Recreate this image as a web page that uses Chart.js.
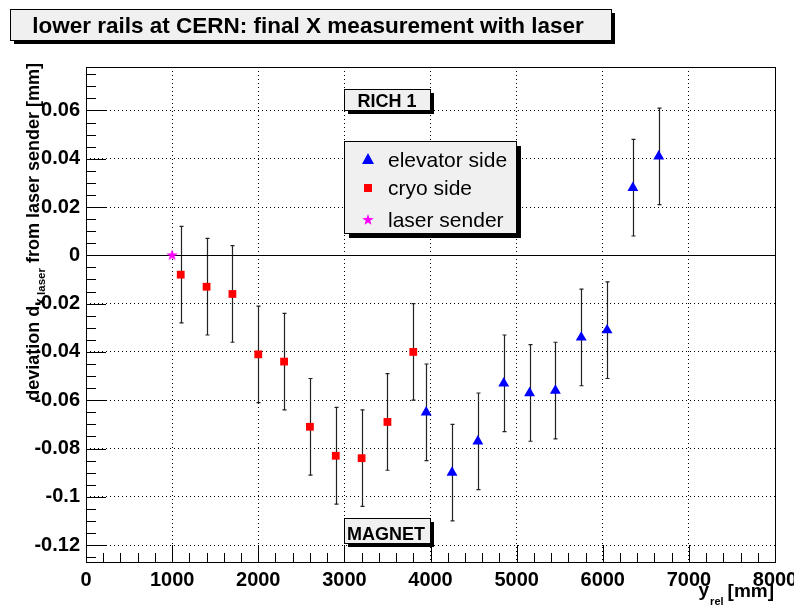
<!DOCTYPE html>
<html>
<head>
<meta charset="utf-8">
<script src="https://cdn.jsdelivr.net/npm/chart.js@4.4.1/dist/chart.umd.min.js"></script>
<style>
  html, body { margin: 0; padding: 0; background: #fff; }
  canvas { display: block; }
</style>
</head>
<body>
<canvas id="railChart" width="794" height="606"></canvas>
<script>
// y_rel positions [mm] and X deviations [mm] measured with the laser
const laserX = [1000];
const laserY = [0];

const cryoX = [1100, 1400, 1700, 2000, 2300, 2600, 2900, 3200, 3500, 3800];
const cryoY = [-0.008, -0.013, -0.016, -0.041, -0.044, -0.071, -0.083, -0.084, -0.069, -0.040];
const cryoErr = [0.02, 0.02, 0.02, 0.02, 0.02, 0.02, 0.02, 0.02, 0.02, 0.02];

const elevX = [3950, 4250, 4550, 4850, 5150, 5450, 5750, 6050, 6350, 6650];
const elevY = [-0.065, -0.090, -0.077, -0.053, -0.057, -0.056, -0.034, -0.031, 0.028, 0.041];
const elevErr = [0.02, 0.02, 0.02, 0.02, 0.02, 0.02, 0.02, 0.02, 0.02, 0.02];

const xTickStep = 1000;
const yTickStep = 0.02;

const FONT = '"Liberation Sans", Arial, Helvetica, sans-serif';

function points(xs, ys, errs) {
    return xs.map((x, i) => ({ x: x, y: ys[i], err: errs ? errs[i] : 0 }));
}

// filled five-point star, used as the marker of the laser sender
function starPoint(r, color) {
    const c = document.createElement('canvas');
    c.width = c.height = Math.ceil(r * 2 + 2);
    const g = c.getContext('2d');
    const cx = c.width / 2, cy = c.height / 2;
    g.beginPath();
    for (let i = 0; i < 10; i++) {
        const rad = i % 2 === 0 ? r : r * 0.4;
        const a = -Math.PI / 2 + i * Math.PI / 5;
        g.lineTo(cx + rad * Math.cos(a), cy + rad * Math.sin(a));
    }
    g.closePath();
    g.fillStyle = color;
    g.fill();
    return c;
}
const star = starPoint(6, '#ff00ff');

function shadowBox(ctx, x, y, w, h, off) {
    ctx.fillStyle = '#000';
    ctx.fillRect(x + off, y + off, w, h);
    ctx.fillStyle = '#f0f0f0';
    ctx.fillRect(x, y, w, h);
    ctx.strokeStyle = '#000';
    ctx.lineWidth = 1;
    ctx.strokeRect(x + 0.5, y + 0.5, w, h);
}

// error bars under the markers
const errorBars = {
    id: 'errorBars',
    beforeDatasetsDraw(chart) {
        const ctx = chart.ctx, xs = chart.scales.x, ys = chart.scales.y;
        ctx.save();
        ctx.strokeStyle = '#222';
        ctx.lineWidth = 1.2;
        chart.data.datasets.forEach(ds => {
            ds.data.forEach(p => {
                if (!p.err) return;
                const px = Math.round(xs.getPixelForValue(p.x)) + 0.5;
                const top = ys.getPixelForValue(p.y + p.err);
                const bot = ys.getPixelForValue(p.y - p.err);
                ctx.beginPath();
                ctx.moveTo(px, top); ctx.lineTo(px, bot);
                ctx.moveTo(px - 2, top); ctx.lineTo(px + 2, top);
                ctx.moveTo(px - 2, bot); ctx.lineTo(px + 2, bot);
                ctx.stroke();
            });
        });
        // zero line
        const y0 = Math.round(ys.getPixelForValue(0)) + 0.5;
        ctx.strokeStyle = '#000';
        ctx.lineWidth = 1;
        ctx.beginPath();
        ctx.moveTo(xs.left, y0); ctx.lineTo(xs.right, y0);
        ctx.stroke();
        ctx.restore();
    }
};

// frame, inner tick marks, titles, labels and legend
const decorations = {
    id: 'decorations',
    afterDraw(chart) {
        const ctx = chart.ctx, xs = chart.scales.x, ys = chart.scales.y;
        const a = chart.chartArea;
        ctx.save();

        ctx.strokeStyle = '#000';
        ctx.lineWidth = 1;
        ctx.strokeRect(Math.round(a.left) + 0.5, Math.round(a.top) + 0.5,
            Math.round(a.right - a.left), Math.round(a.bottom - a.top));

        ctx.beginPath();
        for (let v = xs.min; v <= xs.max + 1e-9; v += xTickStep / 5) {
            const px = Math.round(xs.getPixelForValue(v)) + 0.5;
            const major = Math.abs(v / xTickStep - Math.round(v / xTickStep)) < 1e-6;
            ctx.moveTo(px, a.bottom);
            ctx.lineTo(px, a.bottom - (major ? 17 : 9));
        }
        const yStart = Math.ceil(ys.min / 0.005) * 0.005;
        for (let v = yStart; v <= ys.max + 1e-9; v += 0.005) {
            const py = Math.round(ys.getPixelForValue(v)) + 0.5;
            const major = Math.abs(v / yTickStep - Math.round(v / yTickStep)) < 1e-6;
            ctx.moveTo(a.left, py);
            ctx.lineTo(a.left + (major ? 20 : 10), py);
        }
        ctx.stroke();

        // title box
        shadowBox(ctx, 10, 9, 601, 31, 4);
        ctx.fillStyle = '#000';
        ctx.textAlign = 'center';
        ctx.textBaseline = 'alphabetic';
        ctx.font = 'bold 22.5px ' + FONT;
        ctx.fillText('lower rails at CERN: final X measurement with laser', 308, 33);

        // RICH 1 / MAGNET labels
        shadowBox(ctx, 344, 89, 86, 21, 4);
        shadowBox(ctx, 344, 518, 86, 25, 4);
        ctx.fillStyle = '#000';
        ctx.font = 'bold 18px ' + FONT;
        ctx.fillText('RICH 1', 387, 106.5);
        ctx.fillText('MAGNET', 386, 539.5);

        // legend
        shadowBox(ctx, 344, 141, 172, 92, 5);
        ctx.fillStyle = '#0000ff';
        ctx.beginPath();
        ctx.moveTo(368, 153); ctx.lineTo(374, 164); ctx.lineTo(362, 164); ctx.closePath();
        ctx.fill();
        ctx.fillStyle = '#ff0000';
        ctx.fillRect(364, 184, 8, 8);
        ctx.drawImage(star, 368 - star.width / 2, 220 - star.height / 2);
        ctx.fillStyle = '#000';
        ctx.textAlign = 'left';
        ctx.font = '21px ' + FONT;
        ctx.fillText('elevator side', 388, 167);
        ctx.fillText('cryo side', 388, 195);
        ctx.fillText('laser sender', 388, 227);

        // x axis title
        ctx.textAlign = 'right';
        ctx.font = 'bold 19px ' + FONT;
        const mm = '[mm]';
        ctx.fillText(mm, 774, 597);
        const mmW = ctx.measureText(mm).width;
        ctx.font = 'bold 11px ' + FONT;
        ctx.fillText('rel', 774 - mmW - 4, 605);
        const relW = ctx.measureText('rel').width;
        ctx.font = 'bold 19px ' + FONT;
        ctx.fillText('y', 774 - mmW - 4 - relW - 1, 596);

        // y axis title, rotated, right end at the top of the frame
        ctx.translate(39, 63);
        ctx.rotate(-Math.PI / 2);
        ctx.textAlign = 'left';
        const parts = [
            ['bold 18px ' + FONT, 'deviation d', 0],
            ['bold 11.5px ' + FONT, 'X laser', 6],
            ['bold 18px ' + FONT, ' from laser sender [mm]', 0]
        ];
        let total = 0;
        parts.forEach(p => { ctx.font = p[0]; total += ctx.measureText(p[1]).width; });
        let cx = -total;
        parts.forEach(p => {
            ctx.font = p[0];
            ctx.fillText(p[1], cx, p[2]);
            cx += ctx.measureText(p[1]).width;
        });
        ctx.restore();
    }
};

const ctx = document.getElementById('railChart').getContext('2d');
const railChart = new Chart(ctx, {
    type: 'scatter',
    data: {
        datasets: [
            {
                label: 'elevator side',
                data: points(elevX, elevY, elevErr),
                pointStyle: 'triangle',
                pointRadius: 6.3,
                backgroundColor: '#0000ff',
                borderColor: '#0000ff',
                borderWidth: 0
            },
            {
                label: 'cryo side',
                data: points(cryoX, cryoY, cryoErr),
                pointStyle: 'rect',
                pointRadius: 5.5,
                backgroundColor: '#ff0000',
                borderColor: '#ff0000',
                borderWidth: 0
            },
            {
                label: 'laser sender',
                data: points(laserX, laserY),
                pointStyle: star,
                backgroundColor: '#ff00ff'
            }
        ]
    },
    options: {
        responsive: false,
        animation: false,
        layout: { padding: { top: 67, right: 19, left: 0, bottom: 0 } },
        plugins: {
            legend: { display: false },
            tooltip: { enabled: false }
        },
        scales: {
            x: {
                type: 'linear',
                min: 0,
                max: 8000,
                afterFit: s => { s.height = 44; s.paddingLeft = 0; s.paddingRight = 0; },
                ticks: {
                    stepSize: xTickStep,
                    color: '#000',
                    padding: 6,
                    maxRotation: 0,
                    font: { family: FONT, size: 20, weight: 'bold' },
                    callback: v => String(v)
                },
                grid: { color: '#000', lineWidth: 1, drawTicks: false },
                border: { display: false, dash: [1, 3] }
            },
            y: {
                type: 'linear',
                min: -0.127,
                max: 0.078,
                afterFit: s => { s.width = 86; s.paddingTop = 0; s.paddingBottom = 0; },
                afterBuildTicks: s => {
                    s.ticks = s.ticks.filter(t =>
                        Math.abs(t.value / yTickStep - Math.round(t.value / yTickStep)) < 1e-6);
                },
                ticks: {
                    stepSize: yTickStep,
                    includeBounds: false,
                    color: '#000',
                    padding: 6,
                    font: { family: FONT, size: 20, weight: 'bold' },
                    callback: v => String(Number(v.toFixed(3)))
                },
                grid: { color: '#000', lineWidth: 1, drawTicks: false },
                border: { display: false, dash: [1, 3] }
            }
        }
    },
    plugins: [errorBars, decorations]
});
</script>
</body>
</html>
